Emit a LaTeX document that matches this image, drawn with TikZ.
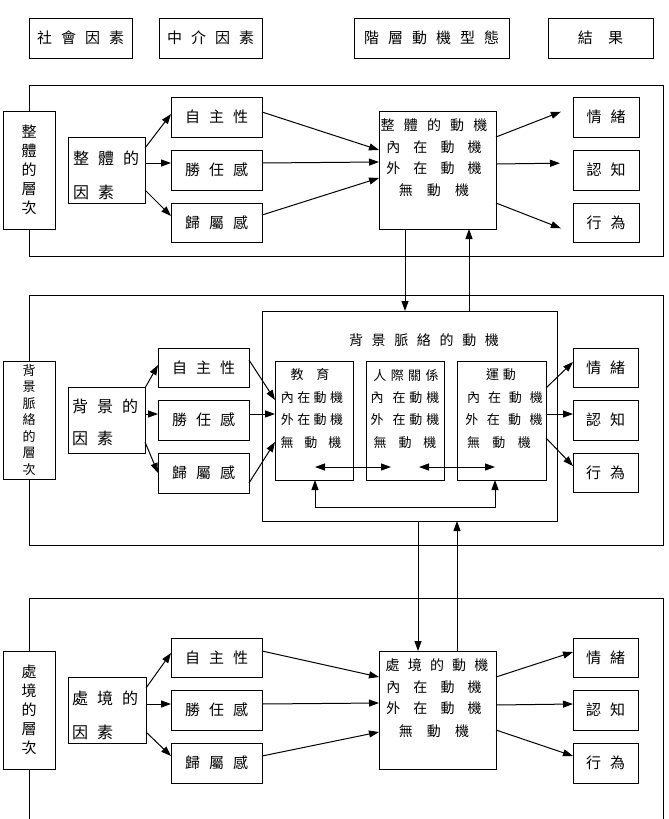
\documentclass[tikz,border=0pt]{standalone}
\usepackage{fontspec}
\setmainfont{Noto Sans CJK TC}
\usetikzlibrary{arrows.meta}
\newcommand{\gp}[1][9]{\hspace{#1pt}}
\begin{document}
\begin{tikzpicture}[x=1pt,y=-1pt,
  box/.style={draw, line width=1pt, fill=white, inner sep=0pt, outer sep=0pt},
  frm/.style={draw, line width=0.9pt},
  arr/.style={line width=1pt, -{Triangle[length=10pt,width=7pt]}},
  dbl/.style={line width=1pt, {Triangle[length=10pt,width=7pt]}-{Triangle[length=10pt,width=7pt]}},
  big/.style={font=\fontsize{15}{18}\selectfont},
  fct/.style={inner sep=0pt, anchor=west, font=\fontsize{16}{18}\selectfont},
  mtx/.style={inner sep=0pt, font=\fontsize{14}{16}\selectfont},
  stx/.style={inner sep=0pt, font=\fontsize{13}{15}\selectfont},
]
\useasboundingbox (0,0) rectangle (669,819);

% ---------- top header ----------
\node[box,big,minimum width=103pt,minimum height=40pt] (h1) at (80.5,38) {社\gp 會\gp 因\gp 素};
\node[box,big,minimum width=103pt,minimum height=40pt] (h2) at (210.5,38) {中\gp 介\gp 因\gp 素};
\node[box,big,minimum width=155pt,minimum height=40pt] (h3) at (431.5,38) {階\gp 層\gp 動\gp 機\gp 型\gp 態};
\node[box,big,minimum width=105pt,minimum height=40pt] (h4) at (600.5,38) {結\gp[12] 果};

% ---------- frames ----------
\draw[frm] (29,85) rectangle (663,256);
\draw[frm] (29,295) rectangle (663,545);
\draw[frm] (29,819) -- (29,598) -- (663,598) -- (663,819);

% ---------- section 1 ----------
\node[box,align=center,font=\fontsize{15}{19}\selectfont,minimum width=52pt,minimum height=118pt] (lab1) at (29,170) {整\\體\\的\\層\\次};
\node[box,minimum width=77pt,minimum height=66pt] (fac1) at (106.5,170) {};
\node[fct] (fac1a) at (73,158) {整\gp 體\gp 的};
\node[fct] (fac1b) at (73,192) {因\gp 素};
\node[box,big,minimum width=91pt,minimum height=40pt] (a1) at (216.5,117) {自\gp 主\gp 性};
\node[box,big,minimum width=91pt,minimum height=40pt] (c1) at (216.5,170) {勝\gp 任\gp 感};
\node[box,big,minimum width=91pt,minimum height=39pt] (r1) at (216.5,222.5) {歸\gp 屬\gp 感};
\node[box,minimum width=117pt,minimum height=118pt] (m1) at (437.5,170) {};
\node[mtx] (m1a) at (434,125) {整\gp[6] 體\gp[6] 的\gp[6] 動\gp[6] 機};
\node[mtx] (m1b) at (434,147) {內\gp[10] 在\gp[10] 動\gp[10] 機};
\node[mtx] (m1c) at (434,168) {外\gp[10] 在\gp[10] 動\gp[10] 機};
\node[mtx] (m1d) at (434,190) {無\gp[11] 動\gp[11] 機};
\node[box,big,minimum width=66pt,minimum height=40pt] (e1) at (606,117) {情\gp 緒};
\node[box,big,minimum width=66pt,minimum height=40pt] (k1) at (606,170) {認\gp 知};
\node[box,big,minimum width=66pt,minimum height=39pt] (b1) at (606,222.5) {行\gp 為};

\draw[arr] (fac1.east |- 0,148) -- (a1.west |- 0,114);
\draw[arr] (fac1.east |- 0,163) -- (c1.west |- 0,163);
\draw[arr] (fac1.east |- 0,190) -- (r1.west |- 0,216);
\draw[arr] (a1.east |- 0,112) -- (m1.west |- 0,150);
\draw[arr] (c1.east |- 0,163) -- (m1.west |- 0,162);
\draw[arr] (r1.east |- 0,215) -- (m1.west |- 0,178);
\draw[arr,shorten >=13pt] (m1.east |- 0,137) -- (e1.west |- 0,107);
\draw[arr,shorten >=13pt] (m1.east |- 0,164) -- (k1.west |- 0,163);
\draw[arr,shorten >=13pt] (m1.east |- 0,203) -- (b1.west |- 0,233);

% ---------- section 2 ----------
\node[box,align=center,font=\fontsize{13}{16.5}\selectfont,minimum width=52pt,minimum height=118pt] (lab2) at (29,420) {背\\景\\脈\\絡\\的\\層\\次};
\node[box,minimum width=77pt,minimum height=66pt] (fac2) at (106.5,420) {};
\node[fct] (fac2a) at (72,406) {背\gp 景\gp 的};
\node[fct] (fac2b) at (72,438) {因\gp 素};
\node[box,big,minimum width=91pt,minimum height=39pt] (a2) at (203.5,367.5) {自\gp 主\gp 性};
\node[box,big,minimum width=91pt,minimum height=40pt] (c2) at (203.5,420) {勝\gp 任\gp 感};
\node[box,big,minimum width=91pt,minimum height=40pt] (r2) at (203.5,473) {歸\gp 屬\gp 感};
\node[box,minimum width=295pt,minimum height=210pt] (inner) at (409.5,416) {};
\node[mtx] (innt) at (424,340) {背\gp[5.5] 景\gp[5.5] 脈\gp[5.5] 絡\gp[5.5] 的\gp[5.5] 動\gp[5.5] 機};
\node[box,minimum width=78pt,minimum height=119pt] (ed) at (314,420.5) {};
\node[box,minimum width=78pt,minimum height=119pt] (ip) at (405,420.5) {};
\node[box,minimum width=89pt,minimum height=119pt] (sp) at (501.5,420.5) {};
\node[stx] (eda) at (310,375) {教\gp[10] 育};
\node[stx] (edb) at (312,398) {內\gp[0.5] 在\gp[0.5] 動\gp[0.5] 機};
\node[stx] (edc) at (312,420) {外\gp[0.5] 在\gp[0.5] 動\gp[0.5] 機};
\node[stx] (edd) at (311,443) {無\gp[8] 動\gp[8] 機};
\node[stx] (ipa) at (406,375) {人\gp[1.5] 際\gp[1.5] 關\gp[1.5] 係};
\node[stx] (ipb) at (405,398) {內\gp[6] 在\gp[1] 動\gp[1] 機};
\node[stx] (ipc) at (405,420) {外\gp[6] 在\gp[1] 動\gp[1] 機};
\node[stx] (ipd) at (405,443) {無\gp[9] 動\gp[9] 機};
\node[stx] (spa) at (501,375) {運\gp[1] 動};
\node[stx] (spb) at (505,398) {內\gp[5] 在\gp[5] 動\gp[5] 機};
\node[stx] (spc) at (504,420) {外\gp[5.5] 在\gp[5.5] 動\gp[5.5] 機};
\node[stx] (spd) at (499,443) {無\gp[9.5] 動\gp[9.5] 機};
\node[box,big,minimum width=65pt,minimum height=39pt] (e2) at (605.5,367.5) {情\gp 緒};
\node[box,big,minimum width=65pt,minimum height=40pt] (k2) at (605.5,420) {認\gp 知};
\node[box,big,minimum width=65pt,minimum height=39pt] (b2) at (605.5,472.5) {行\gp 為};

\draw[arr] (fac2.east |- 0,388) -- (a2.west |- 0,365);
\draw[arr] (fac2.east |- 0,414) -- (c2.west |- 0,414);
\draw[arr] (fac2.east |- 0,442) -- (r2.west |- 0,473);
\draw[arr] (a2.east |- 0,360) -- (ed.west |- 0,400);
\draw[arr] (c2.east |- 0,414) -- (ed.west |- 0,414);
\draw[arr] (r2.east |- 0,483) -- (ed.west |- 0,442);
\draw[arr] (sp.east |- 0,388) -- (e2.west |- 0,362);
\draw[arr] (sp.east |- 0,414) -- (k2.west |- 0,414);
\draw[arr] (sp.east |- 0,438) -- (b2.west |- 0,466);

\coordinate (d1) at (315,467);
\coordinate (d2) at (391,467);
\coordinate (d3) at (419,467);
\coordinate (d4) at (495,467);
\draw[dbl] (d1) -- (d2);
\draw[dbl] (d3) -- (d4);
\draw[dbl] (ed.south -| 315,0) -- (315,507) -| (sp.south -| 495,0);

% ---------- section 3 ----------
\node[box,align=center,font=\fontsize{15}{19}\selectfont,minimum width=52pt,minimum height=118pt] (lab3) at (29,710) {處\\境\\的\\層\\次};
\node[box,minimum width=78pt,minimum height=66pt] (fac3) at (107,710) {};
\node[fct] (fac3a) at (72,698) {處\gp 境\gp 的};
\node[fct] (fac3b) at (72,732) {因\gp 素};
\node[box,big,minimum width=91pt,minimum height=39pt] (a3) at (216.5,657.5) {自\gp 主\gp 性};
\node[box,big,minimum width=91pt,minimum height=40pt] (c3) at (216.5,710) {勝\gp 任\gp 感};
\node[box,big,minimum width=91pt,minimum height=40pt] (r3) at (216.5,763) {歸\gp 屬\gp 感};
\node[box,minimum width=117pt,minimum height=118pt] (m3) at (437.5,710) {};
\node[mtx] (m3a) at (437,665) {處\gp[5] 境\gp[5] 的\gp[5] 動\gp[5] 機};
\node[mtx] (m3b) at (434,687) {內\gp[10] 在\gp[10] 動\gp[10] 機};
\node[mtx] (m3c) at (434,708) {外\gp[10] 在\gp[10] 動\gp[10] 機};
\node[mtx] (m3d) at (434,731) {無\gp[11] 動\gp[11] 機};
\node[box,big,minimum width=65pt,minimum height=39pt] (e3) at (605.5,657.5) {情\gp 緒};
\node[box,big,minimum width=65pt,minimum height=40pt] (k3) at (605.5,710) {認\gp 知};
\node[box,big,minimum width=65pt,minimum height=40pt] (b3) at (605.5,763) {行\gp 為};

\draw[arr] (fac3.east |- 0,688) -- (a3.west |- 0,653);
\draw[arr] (fac3.east |- 0,704) -- (c3.west |- 0,704);
\draw[arr] (fac3.east |- 0,732) -- (r3.west |- 0,756);
\draw[arr] (a3.east |- 0,651) -- (m3.west |- 0,677);
\draw[arr] (c3.east |- 0,704) -- (m3.west |- 0,703);
\draw[arr] (r3.east |- 0,756) -- (m3.west |- 0,732);
\draw[arr] (m3.east |- 0,677) -- (e3.west |- 0,652);
\draw[arr] (m3.east |- 0,705) -- (k3.west |- 0,704);
\draw[arr] (m3.east |- 0,730) -- (b3.west |- 0,756);

% ---------- links between levels ----------
\draw[arr] (m1.south -| 405,0) -- (inner.north -| 405,0);
\draw[arr] (inner.north -| 469,0) -- (m1.south -| 469,0);
\draw[arr] (inner.south -| 418,0) -- (m3.north -| 418,0);
\draw[arr] (m3.north -| 457,0) -- (inner.south -| 457,0);
\end{tikzpicture}
\end{document}
